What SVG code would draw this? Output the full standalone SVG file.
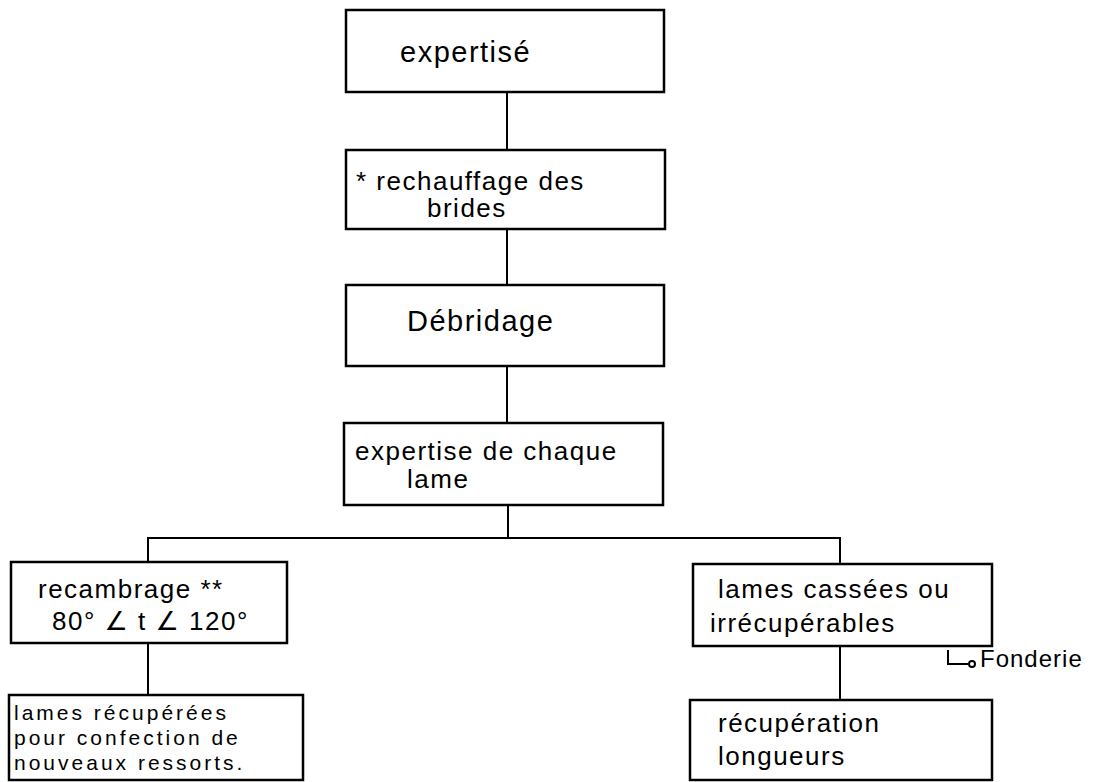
<svg xmlns="http://www.w3.org/2000/svg" width="1094" height="782" viewBox="0 0 1094 782">
<style>
.box{fill:none;stroke:#000;stroke-width:2.5}
.ln{fill:none;stroke:#000;stroke-width:2}
text{font-family:"Liberation Sans","DejaVu Sans",sans-serif;font-size:26px;letter-spacing:1.5px;fill:#000}
.big{font-size:29px}
.sm{font-size:21px;letter-spacing:3px}
</style>
<rect width="1094" height="782" fill="#fff"/>
<g id="connectors">
<path class="ln" d="M507 92V150"/>
<path class="ln" d="M507 229V285"/>
<path class="ln" d="M507 366V423"/>
<path class="ln" d="M508 505V538"/>
<path class="ln" d="M148 562V538H840V564"/>
<path class="ln" d="M148 643V695"/>
<path class="ln" d="M840 646V700"/>
</g>
<g id="n1"><rect class="box" x="346" y="10" width="318" height="82"/><text class="big" x="400" y="62">expertisé</text></g>
<g id="n2"><rect class="box" x="346" y="150" width="319" height="79"/><text x="356" y="190">* rechauffage des</text><text x="427" y="217">brides</text></g>
<g id="n3"><rect class="box" x="346" y="285" width="318" height="81"/><text class="big" x="407" y="331">Débridage</text></g>
<g id="n4"><rect class="box" x="344" y="423" width="319" height="82"/><text x="355" y="460">expertise de chaque</text><text x="407" y="488">lame</text></g>
<g id="n5"><rect class="box" x="11" y="562" width="276" height="81"/><text x="38" y="598">recambrage **</text><text x="52" y="630">80° ∠ t ∠ 120°</text></g>
<g id="n6"><rect class="box" x="9" y="695" width="294" height="85"/><text class="sm" x="14" y="720">lames récupérées</text><text class="sm" x="14" y="745">pour confection de</text><text class="sm" x="14" y="770">nouveaux ressorts.</text></g>
<g id="n7"><rect class="box" x="693" y="564" width="299" height="82"/><text x="718" y="598">lames cassées ou</text><text x="710" y="632">irrécupérables</text></g>
<g id="n8"><rect class="box" x="690" y="700" width="302" height="80"/><text x="718" y="732">récupération</text><text x="718" y="765">longueurs</text></g>
<g id="note"><path class="ln" d="M948 650V664H968"/><circle cx="972" cy="664" r="3" fill="none" stroke="#000" stroke-width="2"/><text x="980" y="667" style="font-size:24px;letter-spacing:1px">Fonderie</text></g>
</svg>
